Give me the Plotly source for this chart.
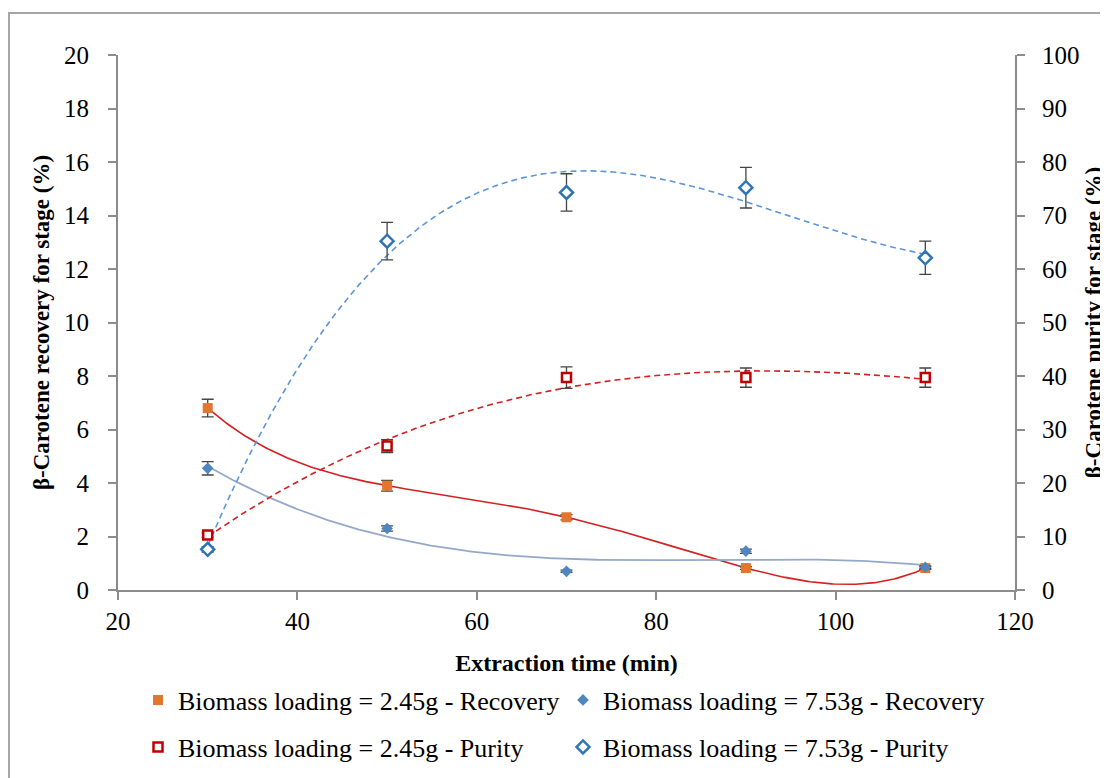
import numpy as np
import plotly.graph_objects as go

# ---- data ----
time_min = [30, 50, 70, 90, 110]

rec_245 = [6.8, 3.9, 2.72, 0.82, 0.82]
rec_245_err = [0.33, 0.2, 0.1, 0.05, 0.05]

rec_753 = [4.55, 2.3, 0.7, 1.45, 0.85]
rec_753_err = [0.25, 0.1, 0.04, 0.08, 0.05]

pur_245 = [10.3, 26.9, 39.7, 39.7, 39.7]
pur_245_err = [0.4, 1.2, 2.0, 1.8, 1.8]

pur_753 = [7.6, 65.2, 74.3, 75.2, 62.1]
pur_753_err = [0.5, 3.5, 3.5, 3.8, 3.1]

# ---- styles ----
FONT = "Liberation Serif"
AXIS_COL = "#8c8c8c"

# page body has an 8px default margin: build figure 8px smaller, shift coords
OFF = 8
W, H = 1108 - OFF, 778 - OFF
L, R, T, B = 118 - OFF, 1015 - OFF, 55 - OFF, 590 - OFF
px = lambda x: (x - OFF - L) / (R - L)          # reference px -> paper x
py = lambda y: (B - (y - OFF)) / (B - T)        # reference px -> paper y
cx = lambda x: (x - OFF) / W                    # reference px -> container x
cy = lambda y: 1 - (y - OFF) / H                # reference px -> container y

fig = go.Figure()

xs = np.linspace(30, 110, 300)

def trend(y, deg):
    c = np.polyfit(time_min, y, deg)
    return np.polyval(c, xs)

# trendlines
fig.add_trace(go.Scatter(x=xs, y=trend(rec_245, 4), mode="lines",
                         line=dict(color="#d42020", width=1.6), showlegend=False, hoverinfo="skip"))
fig.add_trace(go.Scatter(x=xs, y=trend(rec_753, 3), mode="lines",
                         line=dict(color="#94a9c9", width=1.8), showlegend=False, hoverinfo="skip"))
fig.add_trace(go.Scatter(x=xs, y=trend(pur_245, 3), mode="lines", yaxis="y2",
                         line=dict(color="#d42020", width=1.6, dash="6px,4px"), showlegend=False, hoverinfo="skip"))
fig.add_trace(go.Scatter(x=xs, y=trend(pur_753, 3), mode="lines", yaxis="y2",
                         line=dict(color="#5b95dc", width=1.6, dash="6px,4px"), showlegend=False, hoverinfo="skip"))

err_style = dict(type="data", thickness=1.3, width=6, color="#444444")

fig.add_trace(go.Scatter(x=time_min, y=rec_245, mode="markers",
                         name="Biomass loading = 2.45g - Recovery",
                         error_y=dict(array=rec_245_err, **err_style),
                         marker=dict(symbol="square", size=10, color="#e0762f"),
                         legend="legend"))
fig.add_trace(go.Scatter(x=time_min, y=rec_753, mode="markers",
                         name="Biomass loading = 7.53g - Recovery",
                         error_y=dict(array=rec_753_err, **err_style),
                         marker=dict(symbol="diamond", size=9, color="#4f86c0"),
                         legend="legend2"))
fig.add_trace(go.Scatter(x=time_min, y=pur_245, mode="markers", yaxis="y2",
                         name="Biomass loading = 2.45g - Purity",
                         error_y=dict(array=pur_245_err, **err_style),
                         marker=dict(symbol="square", size=9, color="white",
                                     line=dict(color="#c00000", width=2.5)),
                         legend="legend3"))
fig.add_trace(go.Scatter(x=time_min, y=pur_753, mode="markers", yaxis="y2",
                         name="Biomass loading = 7.53g - Purity",
                         error_y=dict(array=pur_753_err, **err_style),
                         marker=dict(symbol="diamond", size=10, color="white",
                                     line=dict(color="#2e75b6", width=2.5)),
                         legend="legend4"))

axis_common = dict(showline=True, linecolor=AXIS_COL, linewidth=2, ticks="outside",
                   tickcolor=AXIS_COL, ticklen=8, tickwidth=1.5, showgrid=False, zeroline=False,
                   automargin=False,
                   tickfont=dict(family=FONT, size=25, color="black"))

TITLE_FONT = dict(family=FONT, size=23, color="black")

def leg(x, y):
    return dict(orientation="h", xref="container", yref="container",
                x=cx(x), y=cy(y), xanchor="left", yanchor="middle",
                itemwidth=30, font=dict(family=FONT, size=26, color="black"),
                bgcolor="rgba(0,0,0,0)")

fig.update_layout(
    width=W, height=H,
    margin=dict(l=L, r=W - R, t=T, b=H - B, autoexpand=False),
    plot_bgcolor="white", paper_bgcolor="white",
    font=dict(family=FONT, size=25, color="black"),
    xaxis=dict(range=[20, 120], dtick=20, ticklabelstandoff=0, **axis_common,
               title=dict(text="<b>Extraction time (min)</b>", font=dict(family=FONT, size=24), standoff=24)),
    yaxis=dict(range=[0, 20], dtick=2, ticklabelstandoff=14, **axis_common,
               title=dict(text="<b>β-Carotene recovery for stage (%)</b>", font=TITLE_FONT, standoff=8)),
    yaxis2=dict(range=[0, 100], dtick=10, overlaying="y", side="right", ticklabelstandoff=12,
                **axis_common,
                title=dict(text="<b>β-Carotene purity for stage (%)</b>", font=TITLE_FONT, standoff=6)),
    legend=leg(138, 700),
    legend2=leg(563, 700),
    legend3=leg(138, 747),
    legend4=leg(563, 747),
    shapes=[dict(type="rect", xref="paper", yref="paper",
                 x0=px(9), x1=px(1140), y0=py(820), y1=py(13),
                 line=dict(color="#a6a6a6", width=2), fillcolor="rgba(0,0,0,0)", layer="below")],
)

fig.write_html("out.html")
